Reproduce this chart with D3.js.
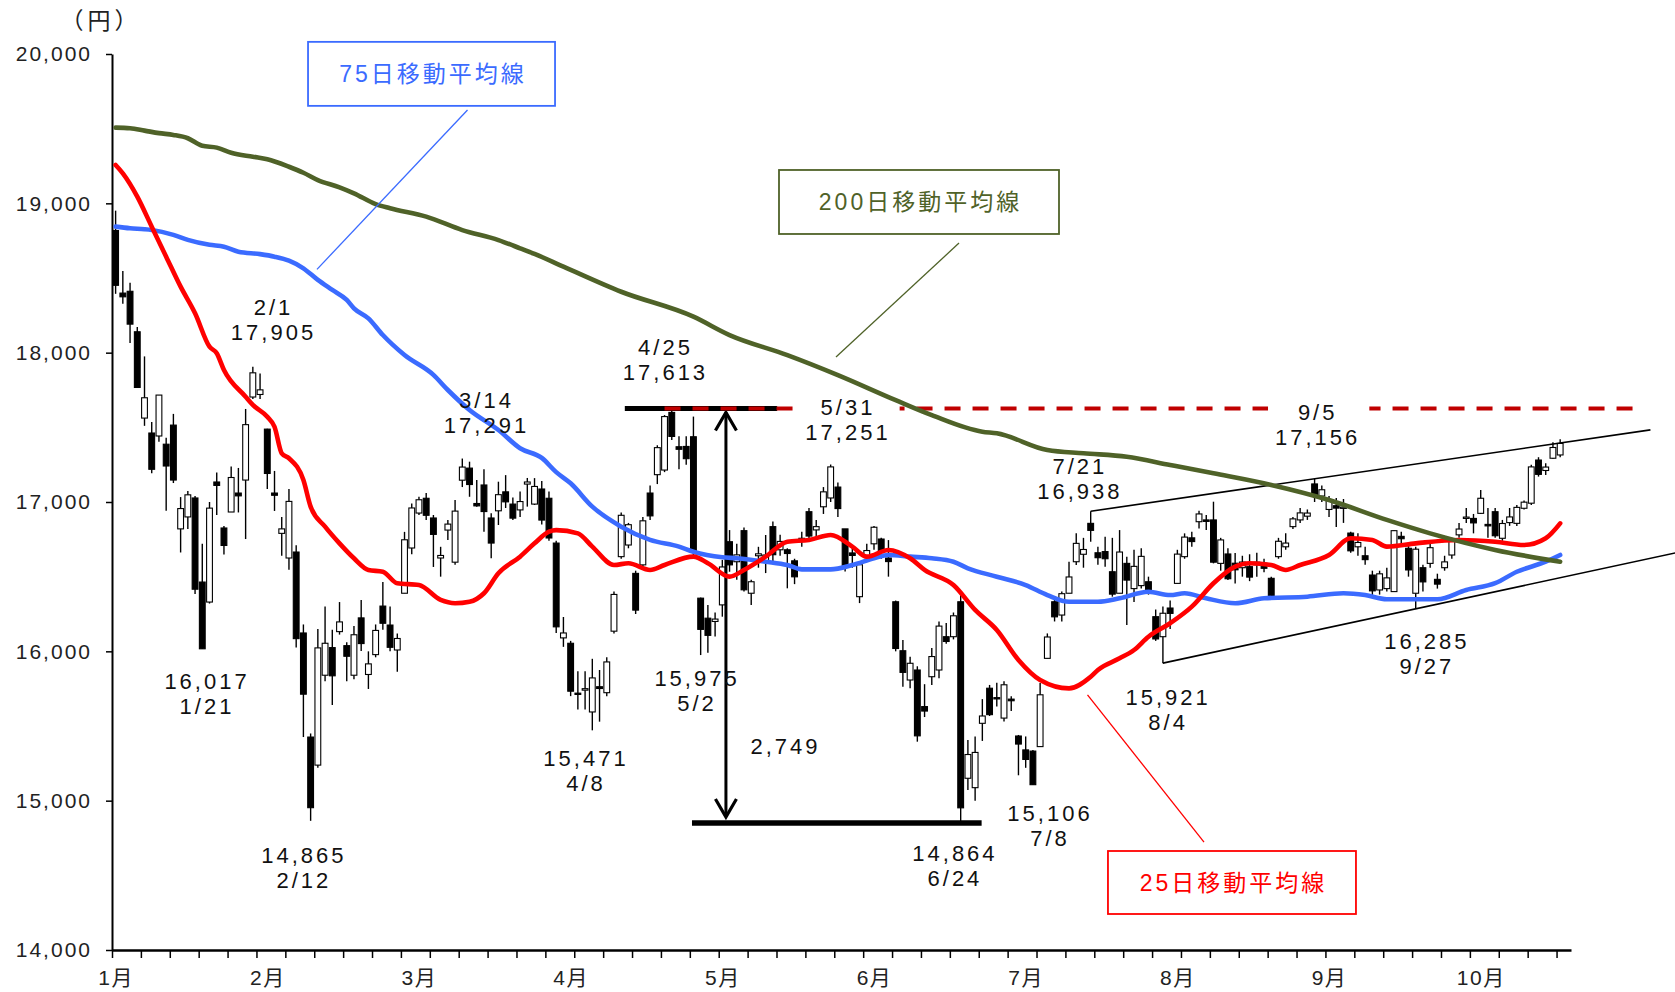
<!DOCTYPE html>
<html><head><meta charset="utf-8">
<script src="https://cdn.jsdelivr.net/npm/d3@7"></script>
<style>
html,body{margin:0;padding:0;background:#fff;}
svg{display:block;}
</style></head><body>
<svg id="chart" width="1675" height="992"></svg>
<script>
// ---------------- DATA ----------------
const dates = [
"1/4","1/5","1/6","1/7","1/8","1/12","1/13","1/14","1/15","1/18","1/19","1/20","1/21","1/22","1/25","1/26","1/27","1/28","1/29",
"2/1","2/2","2/3","2/4","2/5","2/8","2/9","2/10","2/12","2/15","2/16","2/17","2/18","2/19","2/22","2/23","2/24","2/25","2/26","2/29",
"3/1","3/2","3/3","3/4","3/7","3/8","3/9","3/10","3/11","3/14","3/15","3/16","3/17","3/18","3/22","3/23","3/24","3/25","3/28","3/29","3/30","3/31",
"4/1","4/4","4/5","4/6","4/7","4/8","4/11","4/12","4/13","4/14","4/15","4/18","4/19","4/20","4/21","4/22","4/25","4/26","4/27","4/28",
"5/2","5/6","5/9","5/10","5/11","5/12","5/13","5/16","5/17","5/18","5/19","5/20","5/23","5/24","5/25","5/26","5/27","5/30","5/31",
"6/1","6/2","6/3","6/6","6/7","6/8","6/9","6/10","6/13","6/14","6/15","6/16","6/17","6/20","6/21","6/22","6/23","6/24","6/27","6/28","6/29","6/30",
"7/1","7/4","7/5","7/6","7/7","7/8","7/11","7/12","7/13","7/14","7/15","7/19","7/20","7/21","7/22","7/25","7/26","7/27","7/28","7/29",
"8/1","8/2","8/3","8/4","8/5","8/8","8/9","8/10","8/12","8/15","8/16","8/17","8/18","8/19","8/22","8/23","8/24","8/25","8/26","8/29","8/30","8/31",
"9/1","9/2","9/5","9/6","9/7","9/8","9/9","9/12","9/13","9/14","9/15","9/16","9/20","9/21","9/23","9/26","9/27","9/28","9/29","9/30",
"10/3","10/4","10/5","10/6","10/7","10/11","10/12","10/13","10/14","10/17","10/18","10/19","10/20","10/21","10/24","10/25","10/26"];

const open = [
18818,18399,18411,18140,17562,17462,17442,17387,17515,16820,16900,17027,16464,16330,17134,16826,16933,17060,17147,
17703,17720,17488,17060,16790,16625,16665,16123,15426,15238,15840,16025,16132,16038,15840,16224,15845,15978,16303,16176,
16009,16389,16692,16926,17025,16893,16625,16812,16597,17146,17227,16990,17114,16893,16941,17068,16986,16947,17120,16986,17087,17025,
16725,16090,16054,15720,15740,15594,15763,15723,16135,16634,16712,16522,16579,17060,17183,17214,17600,17370,17372,17437,
16356,16222,16200,16311,16734,16600,16808,16389,16640,16600,16835,16680,16680,16606,16745,16935,16813,16968,17027,
17100,16820,16659,16366,16640,16720,16752,16625,16332,16004,15808,15875,15630,15830,15875,16098,16098,16332,15150,15087,15518,15753,
15690,15553,15680,15433,15340,15332,15362,15953,16332,16243,16389,16600,16650,16857,16660,16668,16533,16389,16589,16420,
16440,16466,16232,16098,16290,16455,16634,16760,16868,16880,16880,16589,16652,16590,16560,16567,16580,16590,16489,16634,16700,16835,
16880,16905,17121,17040,16950,16975,16960,16792,16700,16640,16511,16411,16420,16400,16770,16690,16389,16560,16589,16482,
16560,16645,16780,16890,16890,16924,16850,16935,16757,16862,16857,16958,16992,17281,17211,17293,17315];

const high = [
18951,18547,18469,18172,17975,17535,17716,17430,17590,17033,17074,17040,16720,17000,17197,16840,17238,17228,17623,
17905,17860,17490,17208,16900,17087,16710,16180,15450,16150,16300,16145,16330,16060,16170,16344,16000,16180,16464,16300,
16120,16800,16990,17035,17060,16913,16700,16880,17013,17291,17270,17147,17220,16924,17136,17180,17030,17070,17161,17160,17140,17070,
16740,16230,16070,15866,15866,15950,15875,15960,16400,16930,16860,16540,16900,17110,17380,17582,17613,17440,17440,17572,
16360,16310,16260,16612,16812,16720,16830,16480,16700,16779,16870,16780,16690,16620,16800,16960,16880,17100,17251,
17130,16820,16700,16600,16720,16840,16760,16745,16340,16076,15964,15900,15780,16022,16200,16190,16260,16389,15406,15430,15680,15775,
15790,15800,15700,15440,15430,15340,15788,16120,16360,16400,16600,16790,16760,16938,16700,16768,16760,16812,16634,16680,
16690,16500,16280,16300,16340,16680,16790,16800,16941,16913,17002,16760,16690,16658,16640,16650,16660,16620,16500,16760,16790,16900,
16960,16950,17156,17110,17040,17027,17020,16800,16790,16700,16540,16540,16560,16810,16800,16710,16700,16580,16720,16520,
16640,16760,16860,16960,16920,17080,16960,16960,16880,16960,16980,17010,17250,17300,17260,17400,17420];

const low = [
18394,18328,18064,17767,17510,17193,17404,16941,17127,16662,16819,16384,16017,16320,16913,16649,16933,16930,16752,
17690,17690,17087,16940,16640,16546,16026,15426,14865,15220,15800,15640,16112,15800,15813,16002,15748,15960,16145,16000,
15864,16389,16650,16913,16880,16565,16500,16745,16579,17100,17035,16969,16800,16623,16846,16960,16880,16900,16969,16980,16850,16740,
16122,16030,15700,15610,15610,15471,15529,15700,16120,16620,16690,16250,16560,16880,17120,17200,17415,17220,17250,16630,
15975,15990,16100,16232,16533,16480,16400,16310,16560,16524,16600,16640,16422,16450,16700,16740,16760,16920,17000,
16900,16535,16560,16323,16600,16680,16620,16500,16000,15763,15752,15395,15560,15775,15820,16050,16080,14864,15071,15000,15400,15567,
15630,15530,15600,15170,15220,15106,15360,15955,16200,16200,16389,16578,16560,16734,16580,16567,16366,16389,16176,16330,
16420,16380,16070,15921,16150,16455,16620,16700,16823,16813,16589,16540,16478,16455,16500,16470,16500,16530,16350,16620,16680,16820,
16860,16880,17000,17000,16900,16833,16860,16660,16640,16580,16360,16380,16400,16400,16700,16500,16285,16400,16560,16420,
16540,16620,16760,16860,16790,16920,16760,16760,16740,16840,16840,16950,16980,17170,17180,17290,17300];

const close = [
18451,18374,18191,17767,17698,17219,17716,17241,17147,16956,17048,16416,16017,16959,17111,16709,17164,17041,17518,
17865,17751,17191,17045,16820,17004,16085,15713,14953,16023,16054,15836,16197,15967,16111,16052,15916,16140,16188,16027,
16086,16747,16960,17015,16911,16783,16642,16852,16939,17234,17117,16974,16936,16725,17049,17001,16892,17003,17134,17104,16879,16759,
16164,16123,15733,15715,15750,15822,15751,15929,16381,16911,16848,16276,16874,16907,17364,17572,17439,17353,17290,16666,
16147,16107,16216,16565,16579,16646,16412,16466,16653,16645,16647,16736,16655,16499,16757,16772,16835,17068,17235,
16956,16563,16642,16580,16675,16831,16668,16601,16019,15859,15920,15434,15600,15965,16169,16066,16238,14952,15309,15323,15567,15576,
15682,15776,15669,15379,15276,15107,15709,16096,16231,16386,16498,16723,16682,16810,16627,16620,16383,16665,16477,16569,
16636,16391,16083,16255,16254,16651,16765,16735,16920,16870,16597,16746,16486,16546,16598,16497,16597,16556,16361,16737,16725,16887,
16927,16926,17038,17082,17012,16959,16966,16673,16729,16614,16405,16519,16492,16808,16754,16545,16684,16465,16694,16450,
16599,16736,16819,16899,16860,17025,16840,16774,16856,16900,16964,16999,17235,17185,17234,17365,17392];

// moving averages (trading date, value)
const ma25Dates = ["1/4","1/5","1/7","1/12","1/14","1/18","1/20","1/22","1/25","1/26","1/29","2/1","2/3","2/4","2/5","2/8","2/10","2/12","2/16","2/18","2/22","2/24","2/26","3/1","3/4","3/9","3/11","3/15","3/17","3/22","3/25","3/29","3/31","4/1","4/6","4/8","4/13","4/15","4/20","4/22","4/28","5/6","5/11","5/13","5/18","5/23","5/26","5/31","6/3","6/7","6/10","6/15","6/17","6/23","6/28","7/1","7/6","7/11","7/15","7/21","7/22","7/27","7/29","8/2","8/5","8/10","8/16","8/19","8/23","8/26","8/30","9/1","9/7","9/12","9/15","9/20","9/27","10/5","10/13","10/19","10/24","10/26"];
const ma25 = [19257,19201,19045,18844,18643,18442,18264,18040,17996,17884,17705,17650,17571,17504,17326,17293,17147,16969,16835,16723,16623,16545,16533,16456,16444,16344,16322,16332,16389,16523,16634,16723,16801,16812,16790,16701,16578,16590,16545,16578,16634,16590,16500,16545,16634,16734,16746,16779,16701,16634,16679,16623,16545,16444,16277,16143,15942,15808,15752,15830,15875,15953,16009,16098,16188,16299,16456,16567,16590,16578,16545,16578,16645,16757,16746,16701,16723,16746,16734,16712,16757,16857];

const ma75Dates = ["1/4","1/6","1/8","1/12","1/15","1/19","1/22","1/26","1/28","2/2","2/4","2/8","2/10","2/15","2/17","2/19","2/22","2/24","2/26","3/2","3/8","3/10","3/15","3/22","3/25","3/30","4/1","4/5","4/8","4/14","4/20","4/26","4/28","5/10","5/12","5/18","5/23","5/25","5/31","6/3","6/8","6/10","6/15","6/20","6/23","6/27","7/1","7/7","7/12","7/15","7/22","7/27","8/2","8/5","8/9","8/15","8/19","8/25","9/2","9/9","9/14","9/20","9/30","10/6","10/13","10/18","10/24","10/26"];
const ma75 = [18844,18833,18827,18822,18789,18755,18722,18710,18676,18660,18643,18616,18565,18487,18420,18353,18297,18230,18118,17984,17851,17750,17616,17482,17360,17295,17200,17125,16969,16835,16746,16701,16667,16630,16623,16600,16578,16549,16549,16578,16623,16645,16634,16623,16600,16556,16500,16444,16377,16332,16332,16355,16399,16377,16389,16355,16322,16355,16366,16389,16377,16349,16349,16411,16456,16533,16600,16645];

const ma200Dates = ["1/4","1/6","1/8","1/13","1/15","1/19","1/21","1/25","1/27","2/1","2/3","2/8","2/10","2/15","2/18","2/22","2/25","2/29","3/7","3/14","3/22","3/25","3/29","4/4","4/14","4/28","5/11","5/23","6/1","6/13","6/20","6/29","7/1","7/12","7/20","7/28","8/5","8/16","8/26","9/7","9/20","9/29","10/13","10/26"];
const ma200 = [19507,19503,19487,19470,19458,19436,19385,19373,19339,19312,19295,19245,19205,19156,19107,19067,18995,18967,18911,18821,18754,18699,18661,18576,18408,18241,18118,17984,17850,17682,17582,17471,17460,17348,17326,17303,17248,17192,17114,17013,16880,16790,16679,16600];

const yTicks = [14000,15000,16000,17000,18000,19000,20000];
const monthLabels = ["1月","2月","3月","4月","5月","6月","7月","8月","9月","10月"];
const monthLabelDates = ["1/4","2/3","3/4","4/5","5/10","6/8","7/7","8/8","9/7","10/11"];

// annotated highs / lows
const marks = [
  {date:"2/1",  key:"high", dateFirst:true,  at:[21.65,18302]},
  {date:"1/21", key:"low",  dateFirst:false, at:[12.45,15801]},
  {date:"2/12", key:"low",  dateFirst:false, at:[25.85,14636]},
  {date:"3/14", key:"high", dateFirst:true,  at:[51.14,17683]},
  {date:"4/25", key:"high", dateFirst:true,  at:[75.92,18038]},
  {date:"5/31", key:"high", dateFirst:true,  at:[101.19,17636], knockout:true},
  {date:"5/2",  key:"low",  dateFirst:false, at:[80.29,15818]},
  {date:"4/8",  key:"low",  dateFirst:false, at:[64.92,15286]},
  {date:"6/24", key:"low",  dateFirst:false, at:[116.0,14648]},
  {date:"7/8",  key:"low",  dateFirst:false, at:[129.16,14919]},
  {date:"7/21", key:"high", dateFirst:true,  at:[133.29,17241]},
  {date:"8/4",  key:"low",  dateFirst:false, at:[145.52,15691]},
  {date:"9/5",  key:"high", dateFirst:true,  at:[166.22,17603], knockout:true},
  {date:"9/27", key:"low",  dateFirst:false, at:[181.33,16069]}
];

// ---------------- LAYOUT ----------------
const FONT = "'Noto Sans CJK JP','Noto Sans',sans-serif";
const NUMFONT = "'Liberation Sans','Noto Sans CJK JP',sans-serif";
const svg = d3.select("#chart");
const nCat = 202;
const x = d3.scaleLinear().domain([-0.5, nCat - 0.5]).range([112, 1571]);
const y = d3.scaleLinear().domain([14000, 20000]).range([950, 54]);
const idxOf = d => dates.indexOf(d);
const fmt = d3.format(",");
const OHLC = {open, high, low, close};

// axes
const gy = svg.append("g").attr("transform", `translate(${x(-0.5)},0)`)
  .call(d3.axisLeft(y).tickValues(yTicks).tickSize(6).tickSizeOuter(0).tickPadding(14).tickFormat(fmt));
gy.select(".domain").attr("stroke", "#000").attr("stroke-width", 2);
gy.selectAll(".tick line").attr("stroke", "#000").attr("stroke-width", 1.5);
gy.selectAll(".tick text").attr("font-family", NUMFONT).attr("font-size", 21)
  .attr("letter-spacing", "2px").attr("fill", "#222");

const tickIdx = d3.range(-0.5, nCat - 1, 4);
const gx = svg.append("g").attr("transform", `translate(0,${y(14000)})`)
  .call(d3.axisBottom(x).tickValues(tickIdx).tickSize(8).tickSizeOuter(0).tickFormat(""));
gx.select(".domain").attr("stroke", "#000").attr("stroke-width", 2.5);
gx.selectAll(".tick line").attr("stroke", "#000").attr("stroke-width", 1.5);

const gm = svg.append("g").attr("transform", `translate(0,${y(14000)})`)
  .call(d3.axisBottom(x).tickValues(monthLabelDates.map(idxOf)).tickSize(0).tickPadding(20)
    .tickFormat((d, i) => monthLabels[i]));
gm.select(".domain").remove();
gm.selectAll(".tick text").attr("font-family", NUMFONT).attr("font-size", 21)
  .attr("letter-spacing", "1.5px").attr("fill", "#222");

svg.append("text").attr("x", x(-0.5) - 11).attr("y", y(20000) - 25)
  .attr("text-anchor", "middle").attr("font-family", FONT).attr("font-size", 23)
  .attr("letter-spacing", "4px").attr("fill", "#222").text("（円）");

// groups in draw order
const gCandle = svg.append("g");
const gRange = svg.append("g");
const gDash = svg.append("g");
const gGap = svg.append("g");
const gTrend = svg.append("g");
const gMA = svg.append("g");
const gLab = svg.append("g");

// candles
const candles = dates.map((d, i) => ({i, o: open[i], h: high[i], l: low[i], c: close[i]}));
const bodyW = 5.8;
gCandle.selectAll("line").data(candles).join("line")
  .attr("x1", d => x(d.i)).attr("x2", d => x(d.i))
  .attr("y1", d => y(Math.max(d.h, d.o, d.c))).attr("y2", d => y(Math.min(d.l, d.o, d.c)))
  .attr("stroke", "#000").attr("stroke-width", 1.4);
gCandle.selectAll("rect").data(candles).join("rect")
  .attr("x", d => x(d.i) - bodyW / 2).attr("width", bodyW)
  .attr("y", d => y(Math.max(d.o, d.c)))
  .attr("height", d => Math.max(1.3, Math.abs(y(d.o) - y(d.c))))
  .attr("fill", d => d.c >= d.o ? "#fff" : "#000")
  .attr("stroke", "#000").attr("stroke-width", 1.1);

// range (4/25 high -> 6/24 low)
const topVal = high[idxOf("4/25")], botVal = low[idxOf("6/24")];
const R = {topFrom: 70.5, topTo: 91.6, botFrom: 79.8, botTo: 119.9, arrowAt: 84.5, dashFrom: 76, dashTo: 210.6};
gRange.append("line").attr("x1", x(R.topFrom)).attr("x2", x(R.topTo))
  .attr("y1", y(topVal) - 2).attr("y2", y(topVal) - 2).attr("stroke", "#000").attr("stroke-width", 5);
gRange.append("line").attr("x1", x(R.botFrom)).attr("x2", x(R.botTo))
  .attr("y1", y(botVal) + 2).attr("y2", y(botVal) + 2).attr("stroke", "#000").attr("stroke-width", 5.5);
const ax = x(R.arrowAt), aTop = y(topVal) + 2, aBot = y(botVal) - 4;
gRange.append("line").attr("x1", ax).attr("x2", ax).attr("y1", aTop).attr("y2", aBot)
  .attr("stroke", "#000").attr("stroke-width", 3);
gRange.append("path").attr("d", `M${ax - 10.5},${aTop + 18}L${ax},${aTop}L${ax + 10.5},${aTop + 18}`)
  .attr("fill", "none").attr("stroke", "#000").attr("stroke-width", 3.2);
gRange.append("path").attr("d", `M${ax - 10.5},${aBot - 18}L${ax},${aBot}L${ax + 10.5},${aBot - 18}`)
  .attr("fill", "none").attr("stroke", "#000").attr("stroke-width", 3.2);
gLab.append("text").attr("x", x(92.75)).attr("y", y(15366)).attr("dy", "0.36em")
  .attr("text-anchor", "middle").attr("font-family", NUMFONT).attr("font-size", 22)
  .attr("letter-spacing", "3px").attr("fill", "#111").text(fmt(topVal - botVal));

// dashed resistance line
gDash.append("line").attr("x1", x(R.dashFrom)).attr("x2", x(R.dashTo))
  .attr("y1", y(topVal) - 2).attr("y2", y(topVal) - 2)
  .attr("stroke", "#c00000").attr("stroke-width", 4).attr("stroke-dasharray", "16 12");

// trend lines
function trend(p1, p2, toIdx) {
  const i1 = idxOf(p1[0]), i2 = idxOf(p2[0]);
  const s = (p2[1] - p1[1]) / (i2 - i1);
  return [[i1, p1[1]], [toIdx, p1[1] + s * (toIdx - i1)]];
}
const upper = trend(["7/21", high[idxOf("7/21")]], ["9/5", high[idxOf("9/5")]], 212.5);
const lower = trend(["8/4", low[idxOf("8/4")]], ["9/27", low[idxOf("9/27")]], 222);
[upper, lower].forEach(t => gTrend.append("line")
  .attr("x1", x(t[0][0])).attr("y1", y(t[0][1])).attr("x2", x(t[1][0])).attr("y2", y(t[1][1]))
  .attr("stroke", "#000").attr("stroke-width", 1.6));

// moving averages
const maLine = d3.line().x(d => x(d[0])).y(d => y(d[1])).curve(d3.curveMonotoneX);
const series = [
  {d: ma75Dates, v: ma75, color: "#3b6bff"},
  {d: ma25Dates, v: ma25, color: "#ff0000"},
  {d: ma200Dates, v: ma200, color: "#4f6228"}
];
series.forEach(s => gMA.append("path")
  .attr("d", maLine(s.d.map((dt, k) => [idxOf(dt), s.v[k]])))
  .attr("fill", "none").attr("stroke", s.color).attr("stroke-width", 4.6)
  .attr("stroke-linejoin", "round").attr("stroke-linecap", "round"));

// high/low labels
const LH = 25;
marks.forEach(m => {
  const val = OHLC[m.key][idxOf(m.date)];
  const lines = m.dateFirst ? [m.date, fmt(val)] : [fmt(val), m.date];
  const cx = x(m.at[0]), cy = y(m.at[1]);
  const t = gLab.append("text").attr("text-anchor", "middle").attr("font-family", NUMFONT)
    .attr("font-size", 22).attr("letter-spacing", "3px").attr("fill", "#111");
  lines.forEach((s, k) => t.append("tspan").attr("x", cx + 1.5).attr("y", cy + k * LH).attr("dy", "0.36em").text(s));
  if (m.knockout) {
    const bb = t.node().getBBox();
    const yl = y(topVal) - 2;
    gGap.append("rect").attr("x", bb.x - 7).attr("width", bb.width + 16)
      .attr("y", yl - 4).attr("height", 8).attr("fill", "#fff");
  }
});

// legend boxes with leader lines
const boxes = [
  {text: "75日移動平均線", color: "#3b6bff", at: [43.74, 19867], w: 247, h: 64, lead: [[48.72, 19625], [27.88, 18558]]},
  {text: "200日移動平均線", color: "#4f6228", at: [111.23, 19009], w: 280, h: 64, lead: [[116.77, 18734], [99.74, 17971]]},
  {text: "25日移動平均線", color: "#ff0000", at: [154.56, 14452], w: 248, h: 63, lead: [[134.56, 15708], [150.69, 14723]]}
];
boxes.forEach(b => {
  const cx = x(b.at[0]), cy = y(b.at[1]);
  gLab.append("rect").attr("x", cx - b.w / 2).attr("y", cy - b.h / 2).attr("width", b.w).attr("height", b.h)
    .attr("fill", "#fff").attr("stroke", b.color).attr("stroke-width", 1.8);
  gLab.append("text").attr("x", cx + 1.5).attr("y", cy).attr("dy", "0.36em").attr("text-anchor", "middle")
    .attr("font-family", NUMFONT).attr("font-size", 23).attr("letter-spacing", "3px")
    .attr("fill", b.color).text(b.text);
  gLab.append("line").attr("x1", x(b.lead[0][0])).attr("y1", y(b.lead[0][1]))
    .attr("x2", x(b.lead[1][0])).attr("y2", y(b.lead[1][1]))
    .attr("stroke", b.color).attr("stroke-width", 1.3);
});
</script>
</body></html>
